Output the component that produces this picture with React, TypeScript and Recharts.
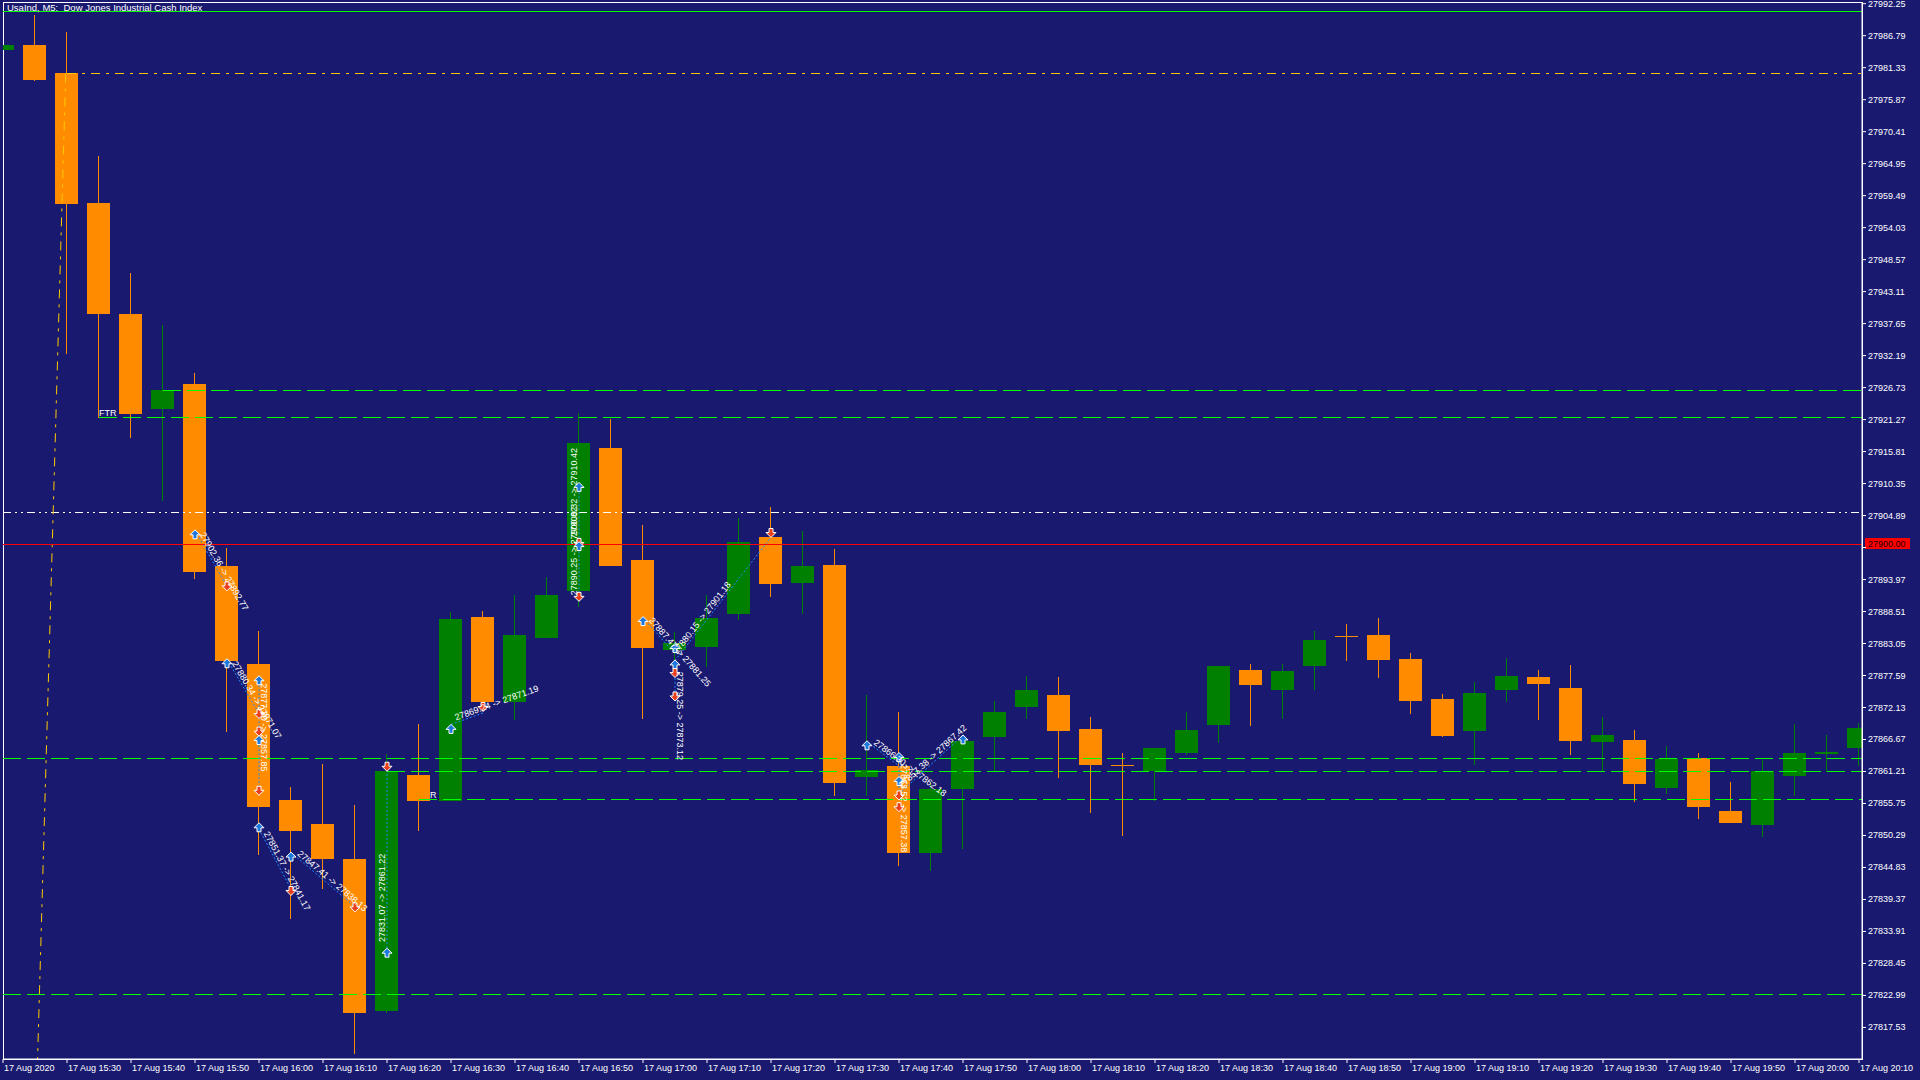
import React from "react";
import {
  ComposedChart,
  Bar,
  XAxis,
  YAxis,
  ReferenceLine,
  ReferenceArea,
  Scatter,
} from "recharts";

// ---------- data ----------
const TITLE = "UsaInd, M5:  Dow Jones Industrial Cash Index";

const barTimes = [
  "15:20", "15:25", "15:30", "15:35", "15:40", "15:45", "15:50", "15:55", "16:00", "16:05",
  "16:10", "16:15", "16:20", "16:25", "16:30", "16:35", "16:40", "16:45", "16:50", "16:55",
  "17:00", "17:05", "17:10", "17:15", "17:20", "17:25", "17:30", "17:35", "17:40", "17:45",
  "17:50", "17:55", "18:00", "18:05", "18:10", "18:15", "18:20", "18:25", "18:30", "18:35",
  "18:40", "18:45", "18:50", "18:55", "19:00", "19:05", "19:10", "19:15", "19:20", "19:25",
  "19:30", "19:35", "19:40", "19:45", "19:50", "19:55", "20:00", "20:05", "20:10",
];

const opens = [
  27984.3, 27985.15, 27980.34, 27958.23, 27939.29, 27923.15, 27927.35, 27896.33, 27879.58, 27856.32,
  27852.21, 27846.21, 27820.35, 27860.62, 27856.24, 27887.6, 27873.14, 27884.07, 27892.09, 27916.44,
  27897.33, 27881.96, 27882.47, 27888.16, 27901.25, 27893.46, 27896.47, 27860.34, 27862.16, 27847.25,
  27858.18, 27867.17, 27872.18, 27874.28, 27868.48, 27862.27, 27861.31, 27864.38, 27869.16, 27878.55,
  27875.13, 27879.23, 27884.3, 27884.52, 27880.43, 27873.6, 27868.13, 27875.13, 27877.35, 27875.48,
  27866.26, 27866.6, 27858.41, 27863.53, 27854.48, 27852.09, 27860.45, 27864.21, 27865.23,
];
const highs = [
  27985.2, 27990.39, 27987.34, 27966.21, 27946.29, 27937.4, 27929.3, 27899.37, 27885.21, 27858.53,
  27862.45, 27855.44, 27864.16, 27869.36, 27888.45, 27888.62, 27891.29, 27894.42, 27922.36, 27921.39,
  27903.3, 27885.0, 27891.35, 27904.5, 27906.37, 27902.28, 27899.2, 27874.28, 27871.32, 27859.37,
  27867.17, 27873.26, 27877.52, 27877.41, 27870.53, 27864.32, 27865.3, 27871.38, 27879.23, 27879.57,
  27879.57, 27885.2, 27886.4, 27887.42, 27881.45, 27874.45, 27876.5, 27880.6, 27878.55, 27879.4,
  27870.52, 27868.31, 27865.57, 27864.38, 27859.43, 27863.18, 27869.33, 27867.45, 27869.5,
];
const lows = [
  27984.3, 27979.06, 27932.34, 27921.56, 27918.21, 27907.43, 27894.12, 27867.95, 27846.9, 27835.97,
  27841.15, 27812.96, 27819.98, 27851.06, 27856.24, 27872.6, 27870.01, 27884.07, 27889.19, 27896.3,
  27870.24, 27879.3, 27879.12, 27887.14, 27891.07, 27888.16, 27857.1, 27857.1, 27844.98, 27844.12,
  27848.11, 27861.19, 27870.13, 27860.17, 27854.08, 27850.1, 27856.3, 27864.1, 27866.09, 27868.99,
  27870.18, 27875.13, 27880.08, 27877.18, 27871.04, 27867.11, 27862.33, 27873.09, 27870.01, 27864.04,
  27861.14, 27856.01, 27857.38, 27853.11, 27852.43, 27850.04, 27857.04, 27861.14, 27862.16,
];
const closes = [
  27985.15, 27979.24, 27958.11, 27939.35, 27922.29, 27926.31, 27895.32, 27880.15, 27855.18, 27851.08,
  27846.27, 27819.98, 27861.25, 27856.22, 27887.25, 27873.14, 27884.52, 27891.35, 27917.3, 27896.36,
  27882.36, 27883.21, 27887.42, 27900.4, 27893.29, 27896.3, 27859.32, 27861.48, 27847.25, 27858.24,
  27866.43, 27871.38, 27875.13, 27868.19, 27862.39, 27862.1, 27865.23, 27868.31, 27879.23, 27875.99,
  27878.38, 27883.67, 27884.29, 27880.25, 27873.26, 27867.28, 27874.62, 27877.52, 27876.16, 27866.43,
  27867.45, 27859.09, 27863.36, 27855.16, 27852.43, 27861.31, 27864.38, 27864.55, 27868.65,
];

const xTickBars = [
  0, 2, 4, 6, 8, 10, 12, 14, 16, 18, 20, 22, 24, 26, 28, 30, 32, 34, 36, 38, 40, 42, 44, 46, 48, 50,
  52, 54, 56, 58,
];
const xTickText = [
  "17 Aug 2020", "17 Aug 15:30", "17 Aug 15:40", "17 Aug 15:50", "17 Aug 16:00", "17 Aug 16:10",
  "17 Aug 16:20", "17 Aug 16:30", "17 Aug 16:40", "17 Aug 16:50", "17 Aug 17:00", "17 Aug 17:10",
  "17 Aug 17:20", "17 Aug 17:30", "17 Aug 17:40", "17 Aug 17:50", "17 Aug 18:00", "17 Aug 18:10",
  "17 Aug 18:20", "17 Aug 18:30", "17 Aug 18:40", "17 Aug 18:50", "17 Aug 19:00", "17 Aug 19:10",
  "17 Aug 19:20", "17 Aug 19:30", "17 Aug 19:40", "17 Aug 19:50", "17 Aug 20:00", "17 Aug 20:10",
];

const yTicks = [
  27817.53, 27822.99, 27828.45, 27833.91, 27839.37, 27844.83, 27850.29, 27855.75, 27861.21, 27866.67,
  27872.13, 27877.59, 27883.05, 27888.51, 27893.97, 27899.43, 27904.89, 27910.35, 27915.81, 27921.27,
  27926.73, 27932.19, 27937.65, 27943.11, 27948.57, 27954.03, 27959.49, 27964.95, 27970.41, 27975.87,
  27981.33, 27986.79, 27992.25,
];

// horizontal objects
const levelPrices = [27990.88, 27980.34, 27926.25, 27921.56, 27905.48, 27863.47, 27861.25, 27856.36, 27823.13];
const levelStartBar = [0, 2, 5, 3, 0, 0, 12, 13, 0];
const levelKind = ["limeSolid", "gold", "lime", "lime", "white", "lime", "lime", "lime", "lime"];
const redLevel = 27900.0;

const ftrBars = [3, 13];
const ftrPrices = [27921.56, 27856.36];

// gold trend line (bar position, price)
const trendBars = [1.96, 1.08];
const trendPrices = [27980.34, 27812.14];

// trade history: open bar, open price, close bar, close price
const tradeOpenBar = [6, 7, 8, 8, 9, 12, 14, 18, 18, 20, 21, 21, 27, 28, 28];
const tradeOpenPrice = [
  27902.36, 27880.34, 27877.3, 27851.37, 27847.41, 27831.07, 27869.24, 27890.25, 27900.32, 27887.47,
  27880.15, 27879.25, 27866.3, 27863.52, 27857.38,
];
const tradeCloseBar = [7, 8, 8, 9, 11, 12, 15, 18, 18, 21, 24, 21, 28, 28, 30];
const tradeClosePrice = [
  27892.77, 27871.07, 27857.85, 27841.17, 27838.13, 27861.22, 27871.19, 27900.32, 27910.42, 27881.25,
  27901.18, 27873.12, 27862.18, 27857.38, 27867.42,
];

// arrows: bar, price, kind
const arrowBars = [6, 7, 7, 8, 8, 8, 8, 8, 8, 9, 9, 11, 12, 12, 14, 15, 18, 18, 18, 18, 20, 21, 21, 21, 21, 24, 27, 28, 28, 28, 28, 30];
const arrowPrices = [
  27901.6, 27892.9, 27879.6, 27876.7, 27871.1, 27868.1, 27866.5, 27858.0, 27851.6, 27840.9, 27846.6,
  27838.1, 27862.1, 27830.2, 27868.4, 27872.3, 27909.7, 27900.3, 27899.6, 27891.1, 27886.8, 27882.2,
  27879.4, 27878.1, 27874.1, 27902.0, 27865.6, 27863.6, 27859.5, 27857.2, 27855.2, 27866.6,
];
const arrowKinds = [
  "buy", "sell", "buy", "buy", "sell", "sell", "buy", "sell", "buy", "sell", "buy", "sell", "sell", "buy",
  "buy", "sell", "buy", "sell", "buy", "sell", "buy", "buy", "buy", "sell", "sell", "sell", "buy", "buy",
  "buy", "sell", "sell", "buy",
];

// ---------- layout & style ----------
const W = 1920;
const H = 1080;
const MARGIN = { top: 2, right: 0, bottom: 0, left: 3 };
const Y_AXIS_W = 58;
const X_AXIS_H = 21;
const PLOT_W = W - MARGIN.left - Y_AXIS_W;
const PLOT_H = H - MARGIN.top - X_AXIS_H;
const BAR_STEP = 32;
const X_MIN = 0;
const X_MAX = PLOT_W / BAR_STEP;
const Y_MIN = 27812.14;
const Y_MAX = 27992.54;
const PX_PER_UNIT = PLOT_H / (Y_MAX - Y_MIN);

const BG = "#191970";
const BULL = "#008000";
const BEAR = "#FF8C00";
const LIME = "#00FF00";
const GOLD = "#FFC800";
const RED = "#FF0000";
const BUY_BLUE = "#1E78DC";
const SELL_RED = "#E8401C";
const FONT = "'Liberation Sans', Arial, sans-serif";

const levelStyle: Record<string, { stroke: string; dash?: string }> = {
  limeSolid: { stroke: LIME },
  gold: { stroke: GOLD, dash: "9 6 3 6" },
  lime: { stroke: LIME, dash: "18 6" },
  white: { stroke: "#FFFFFF", dash: "8 4 2 4 2 4" },
};

// ---------- derived tables ----------
const candles = barTimes.map((t, k) => ({
  i: k,
  time: t,
  open: opens[k],
  high: highs[k],
  low: lows[k],
  close: closes[k],
}));

const tradeAngle = (k: number) =>
  (Math.atan2(
    -(tradeClosePrice[k] - tradeOpenPrice[k]) * PX_PER_UNIT,
    (tradeCloseBar[k] - tradeOpenBar[k]) * BAR_STEP
  ) *
    180) /
  Math.PI;

const tradeTexts = tradeOpenBar.map((b, k) => ({
  i: b,
  p: tradeOpenPrice[k],
  text: `${tradeOpenPrice[k].toFixed(2)} -> ${tradeClosePrice[k].toFixed(2)}`,
  ang: tradeAngle(k),
}));

const arrows = arrowBars.map((b, k) => ({ i: b, p: arrowPrices[k], kind: arrowKinds[k] }));
const ftrs = ftrBars.map((b, k) => ({ i: b, p: ftrPrices[k], text: "FTR" }));

// ---------- shapes ----------
function Candle(props: any) {
  const { x, y, width, height, payload } = props;
  if (x == null || y == null || !payload) return null;
  const top = Math.min(y, y + height);
  const h = Math.abs(height);
  const { open, close, high, low } = payload;
  const k = high > low ? h / (high - low) : 0;
  const bTop = Math.round(top + (high - Math.max(open, close)) * k);
  const bBot = Math.round(top + (high - Math.min(open, close)) * k);
  const color = close >= open ? BULL : BEAR;
  const cx = Math.floor(x + width / 2);
  return (
    <g shapeRendering="crispEdges">
      <rect x={cx} y={Math.round(top)} width={1} height={Math.max(1, Math.round(h))} fill={color} />
      <rect
        x={Math.round(x)}
        y={bTop}
        width={Math.round(width)}
        height={Math.max(1, bBot - bTop)}
        fill={color}
      />
    </g>
  );
}

function Arrow(props: any) {
  const { cx, cy, payload } = props;
  if (cx == null || cy == null) return null;
  const up = payload.kind === "buy";
  const s = up ? 1 : -1;
  const d = `M${cx},${cy - 5 * s} L${cx + 5},${cy} L${cx + 2},${cy} L${cx + 2},${cy + 4 * s} L${cx - 2},${cy + 4 * s} L${cx - 2},${cy} L${cx - 5},${cy} Z`;
  return <path d={d} fill={up ? BUY_BLUE : SELL_RED} stroke="#FFFFFF" strokeWidth={1} />;
}

function TradeText(props: any) {
  const { cx, cy, payload } = props;
  if (cx == null || cy == null) return null;
  return (
    <text
      x={cx}
      y={cy}
      dx={6}
      dy={-2}
      transform={`rotate(${payload.ang} ${cx} ${cy})`}
      fill="#FFFFFF"
      fontSize={9}
      fontFamily={FONT}
    >
      {payload.text}
    </text>
  );
}

function FtrText(props: any) {
  const { cx, cy, payload } = props;
  if (cx == null || cy == null) return null;
  return (
    <text x={cx} y={cy - 2} fill="#FFFFFF" fontSize={9} fontFamily={FONT} textAnchor="start">
      {payload.text}
    </text>
  );
}

function XTick(props: any) {
  const { x, y, payload } = props;
  const idx = xTickBars.indexOf(payload.value);
  return (
    <text x={x + 1} y={y + 6} fill="#FFFFFF" fontSize={9} fontFamily={FONT} textAnchor="start">
      {idx >= 0 ? xTickText[idx] : ""}
    </text>
  );
}

function YTick(props: any) {
  const { x, y, payload } = props;
  const v = Number(payload.value);
  // the tick hidden behind the red price tag of the horizontal line
  if (Math.abs(v - redLevel) * PX_PER_UNIT < 7) return <g />;
  return (
    <text x={x} y={y} dy={3} fill="#FFFFFF" fontSize={9} fontFamily={FONT} textAnchor="start">
      {v.toFixed(2)}
    </text>
  );
}

function RedTag(props: any) {
  const vb = props.viewBox || {};
  if (vb.x == null) return null;
  const x = vb.x + vb.width + 3;
  const y = vb.y;
  return (
    <g>
      <rect x={x} y={Math.round(y) - 6} width={45} height={11} fill={RED} shapeRendering="crispEdges" />
      <text x={x + 3} y={y + 3} fill="#200000" fontSize={9} fontFamily={FONT}>
        {redLevel.toFixed(2)}
      </text>
    </g>
  );
}

export default function App() {
  return (
    <div style={{ position: "relative", width: W, height: H, background: BG, overflow: "hidden" }}>
      <style>{`html,body{margin:0;padding:0;background:${BG};}`}</style>
      <ComposedChart width={W} height={H} data={candles} margin={MARGIN}>
        <XAxis
          dataKey="i"
          type="number"
          domain={[X_MIN, X_MAX]}
          allowDataOverflow
          ticks={xTickBars}
          interval={0}
          height={X_AXIS_H}
          axisLine={{ stroke: "#FFFFFF" }}
          tickLine={{ stroke: "#FFFFFF" }}
          tickSize={4}
          tick={(p: any) => <XTick {...p} />}
        />
        <YAxis
          orientation="right"
          type="number"
          domain={[Y_MIN, Y_MAX]}
          allowDataOverflow
          ticks={yTicks}
          interval={0}
          width={Y_AXIS_W}
          axisLine={{ stroke: "#FFFFFF" }}
          tickLine={{ stroke: "#FFFFFF" }}
          tickSize={4}
          tick={(p: any) => <YTick {...p} />}
        />

        <Scatter
          data={ftrs}
          dataKey="p"
          shape={(p: any) => <FtrText {...p} />}
          isAnimationActive={false}
          {...({ zIndex: 200 } as any)}
        />

        <Bar
          dataKey={(d: any) => [d.low, d.high]}
          barSize={23}
          shape={(p: any) => <Candle {...p} />}
          isAnimationActive={false}
        />

        {levelPrices.map((lv, k) => (
          <ReferenceLine
            key={`lv${k}`}
            segment={[
              { x: levelStartBar[k], y: lv },
              { x: X_MAX, y: lv },
            ]}
            stroke={levelStyle[levelKind[k]].stroke}
            strokeDasharray={levelStyle[levelKind[k]].dash}
            strokeWidth={1}
            ifOverflow="visible"
            shapeRendering="crispEdges"
          />
        ))}

        <ReferenceLine
          segment={[
            { x: trendBars[0], y: trendPrices[0] },
            { x: trendBars[1], y: trendPrices[1] },
          ]}
          stroke={GOLD}
          strokeDasharray="9 6 3 6"
          strokeWidth={1}
          ifOverflow="hidden"
        />

        {tradeOpenBar.map((b, k) => (
          <ReferenceLine
            key={`tr${k}`}
            segment={[
              { x: b, y: tradeOpenPrice[k] },
              { x: tradeCloseBar[k], y: tradeClosePrice[k] },
            ]}
            stroke="#1E90FF"
            strokeDasharray="2 2"
            strokeWidth={1}
            ifOverflow="visible"
          />
        ))}

        <Scatter data={arrows} dataKey="p" shape={(p: any) => <Arrow {...p} />} isAnimationActive={false} />
        <Scatter data={tradeTexts} dataKey="p" shape={(p: any) => <TradeText {...p} />} isAnimationActive={false} />

        <ReferenceLine
          y={redLevel}
          stroke={RED}
          strokeWidth={1}
          shapeRendering="crispEdges"
          label={(p: any) => <RedTag {...p} />}
        />

        <ReferenceArea
          x1={X_MIN}
          x2={X_MAX}
          y1={Y_MIN}
          y2={Y_MAX}
          fill="none"
          fillOpacity={0}
          stroke="#FFFFFF"
          strokeWidth={1}
          shapeRendering="crispEdges"
          ifOverflow="visible"
        />
      </ComposedChart>
      <div
        style={{
          position: "absolute",
          left: 7,
          top: 2,
          color: "#FFFFFF",
          fontFamily: FONT,
          fontSize: 9.5,
          lineHeight: "11px",
          whiteSpace: "pre",
        }}
      >
        {TITLE}
      </div>
    </div>
  );
}
